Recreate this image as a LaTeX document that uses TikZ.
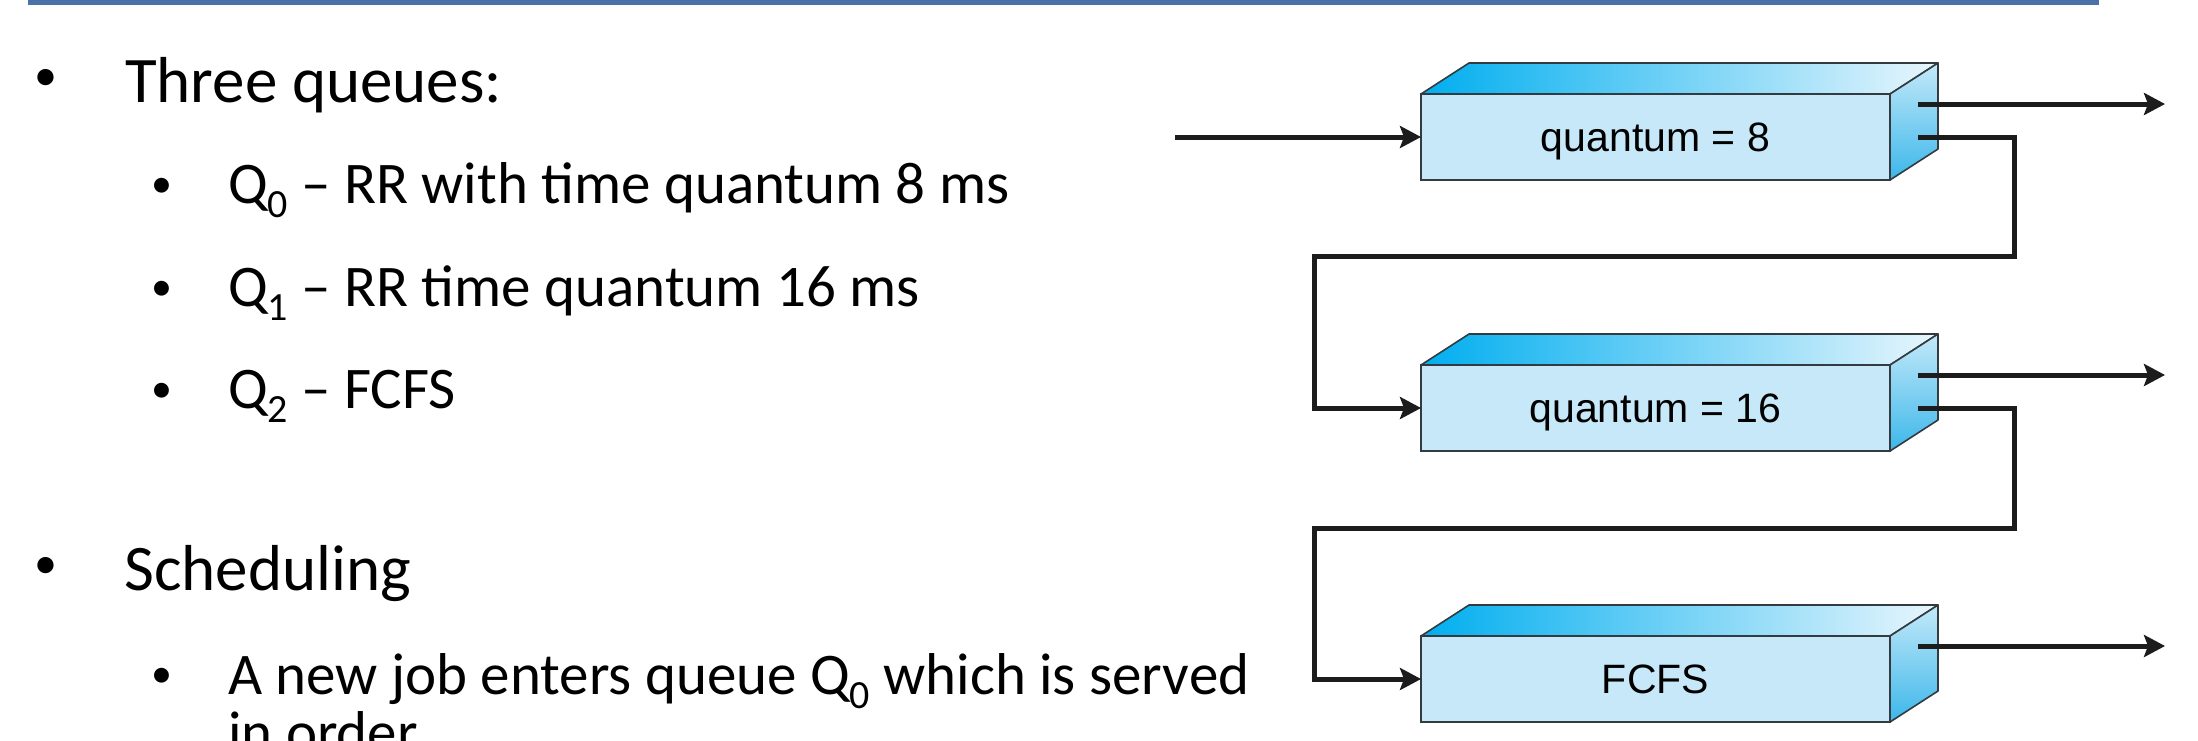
\documentclass[tikz,border=0pt]{standalone}
\usepackage{fontspec}
\usetikzlibrary{arrows.meta,calc}
\newfontfamily\calfont{Carlito}
\newfontfamily\helvfont{Liberation Sans}
\definecolor{rulebl}{HTML}{4A72A8}
\definecolor{frontbl}{HTML}{C6E8F8}
\definecolor{topcyan}{HTML}{00AEEF}
\definecolor{topmid}{HTML}{70CCF2}
\definecolor{toplight}{HTML}{E8F6FD}
\definecolor{sidetop}{HTML}{C4E9F9}
\definecolor{sidebot}{HTML}{3CB7EA}
\definecolor{edgec}{HTML}{333B40}
\definecolor{wire}{HTML}{1C1C1C}
\newcommand\qsub[1]{\raisebox{-14pt}{\fontsize{40}{40}\selectfont #1}}
\tikzset{
  qbox/.style={draw=edgec, line width=1.6pt, fill=frontbl, minimum width=469pt,
    minimum height=86pt, inner sep=0pt, outer sep=0pt, text depth=0pt,
    font=\helvfont\fontsize{41}{41}\selectfont},
  topface/.style={draw=edgec, line width=1.6pt, line join=round,
    left color=topcyan, middle color=topmid, right color=toplight},
  sideface/.style={draw=edgec, line width=1.6pt, line join=round,
    top color=sidetop, bottom color=sidebot},
  wirel/.style={draw=wire, line width=5pt, line join=miter},
  arr/.style={wirel, -{Stealth[length=21pt,width=22pt,inset=4pt]}},
  maintext/.style={anchor=base west, inner sep=0pt, font=\calfont\fontsize{65}{78}\selectfont},
  subtext/.style={anchor=base west, inner sep=0pt, font=\calfont\fontsize{59}{70}\selectfont},
  mainbul/.style={anchor=center, inner sep=0pt, font=\calfont\fontsize{46}{46}\selectfont},
  subbul/.style={anchor=center, inner sep=0pt, font=\calfont\fontsize{42}{42}\selectfont},
}
\begin{document}
\begin{tikzpicture}[x=1pt, y=-1pt]
\useasboundingbox (0,0) rectangle (2198,740);
% top rule
\fill[rulebl] (28,0) rectangle (2099,5);

% left text
\node[mainbul] (b1) at (46,80) {•};
\node[maintext] (t1) at (125,102) {Three queues:};
\node[subbul] (b2) at (161.5,187.5) {•};
\node[subtext] (t2) at (228,203) {Q\qsub{0} – RR with time quantum 8 ms};
\node[subbul] (b3) at (161.5,290.5) {•};
\node[subtext] (t3) at (228,306) {Q\qsub{1} – RR time quantum 16 ms};
\node[subbul] (b4) at (161.5,392.5) {•};
\node[subtext] (t4) at (228,408) {Q\qsub{2} – FCFS};
\node[mainbul] (b5) at (46,568) {•};
\node[maintext] (t5) at (124,590) {Scheduling};
\node[subbul] (b6) at (161.5,678) {•};
\node[subtext] (t6) at (228,694) {A new job enters queue Q\qsub{0} which is served};
\node[subtext] (t7) at (228,752) {in order};

% boxes
\node[qbox] (q0) at (1655.5,137) {quantum = 8};
\node[qbox] (q1) at (1655.5,408) {quantum = 16};
\node[qbox] (q2) at (1655.5,679) {FCFS};
\foreach \q in {q0,q1,q2}{
  \shade[topface] (\q.north west) -- ($(\q.north west)+(48pt,31pt)$)
    -- ($(\q.north east)+(48pt,31pt)$) -- (\q.north east) -- cycle;
  \shade[sideface] (\q.north east) -- ($(\q.north east)+(48pt,31pt)$)
    -- ($(\q.south east)+(48pt,31pt)$) -- (\q.south east) -- cycle;
}

% connectors
\coordinate (in) at (1175,137);
\draw[arr] (in) -- (q0.west);
\foreach \q in {q0,q1,q2}{
  \coordinate (\q ua) at ($(\q.east)+(28pt,33pt)$);
  \coordinate (\q ub) at ($(\q ua)+(247pt,0pt)$);
  \draw[arr] (\q ua) -- (\q ub);
}
\coordinate (s0) at ($(q0.east)+(28pt,0pt)$);
\coordinate (k0) at (2014,256);
\coordinate (l0) at (1314,256);
\draw[arr] (s0) -| (k0) -- (l0) |- (q1.west);
\coordinate (s1) at ($(q1.east)+(28pt,0pt)$);
\coordinate (k1) at (2014,528);
\coordinate (l1) at (1314,528);
\draw[arr] (s1) -| (k1) -- (l1) |- (q2.west);
\end{tikzpicture}
\end{document}
